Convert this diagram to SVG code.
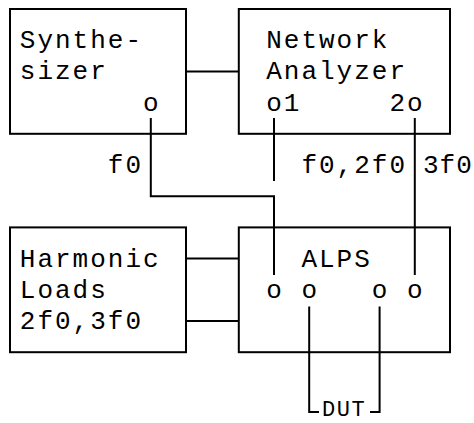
<svg xmlns="http://www.w3.org/2000/svg" width="474" height="423" viewBox="0 0 474 423">
  <style>
    .box { fill: none; stroke: #000000; stroke-width: 2; }
    .wire { fill: none; stroke: #000000; stroke-width: 2; }
    text { font-family: "Liberation Mono", "DejaVu Sans Mono", monospace; font-size: 26px; letter-spacing: 2px; fill: #000000; }
  </style>
  <rect x="0" y="0" width="474" height="423" fill="#ffffff"/>
  <g id="connectors">
    <path class="wire" d="M186 71.4 H238.8"/>
    <path class="wire" d="M186 258.6 H238.8"/>
    <path class="wire" d="M186 321 H238.8"/>
    <path class="wire" d="M150.8 118 V196.2 H274 V275"/>
    <path class="wire" d="M274 118 V181"/>
    <path class="wire" d="M414.8 118 V275"/>
    <path class="wire" d="M309.2 306.5 V412 H319"/>
    <path class="wire" d="M379.6 306.5 V412 H370"/>
    <text x="107.8" y="173">f0</text>
    <text x="301.4" y="173">f0,2f0</text>
    <text x="423" y="173" style="letter-spacing:1px">3f0</text>
    <text x="322" y="416" style="font-size:22px;letter-spacing:1.5px">DUT</text>
  </g>
  <g id="synthesizer">
    <rect class="box" x="10" y="9" width="176" height="124.8"/>
    <text x="19.8" y="48.2">Synthe-</text>
    <text x="19.8" y="79.4">sizer</text>
    <text x="143" y="110.6">o</text>
  </g>
  <g id="network-analyzer">
    <rect class="box" x="238.8" y="9" width="211.2" height="124.8"/>
    <text x="266.2" y="48.2">Network</text>
    <text x="266.2" y="79.4">Analyzer</text>
    <text x="266.2" y="110.6">o1</text>
    <text x="389.4" y="110.6">2o</text>
  </g>
  <g id="harmonic-loads">
    <rect class="box" x="10" y="227.4" width="176" height="124.8"/>
    <text x="19.8" y="266.6">Harmonic</text>
    <text x="19.8" y="297.8">Loads</text>
    <text x="19.8" y="329">2f0,3f0</text>
  </g>
  <g id="alps">
    <rect class="box" x="238.8" y="227.4" width="211.2" height="124.8"/>
    <text x="301.4" y="266.6">ALPS</text>
    <text x="266.2" y="297.8">o</text>
    <text x="301.4" y="297.8">o</text>
    <text x="371.8" y="297.8">o</text>
    <text x="407" y="297.8">o</text>
  </g>
</svg>
